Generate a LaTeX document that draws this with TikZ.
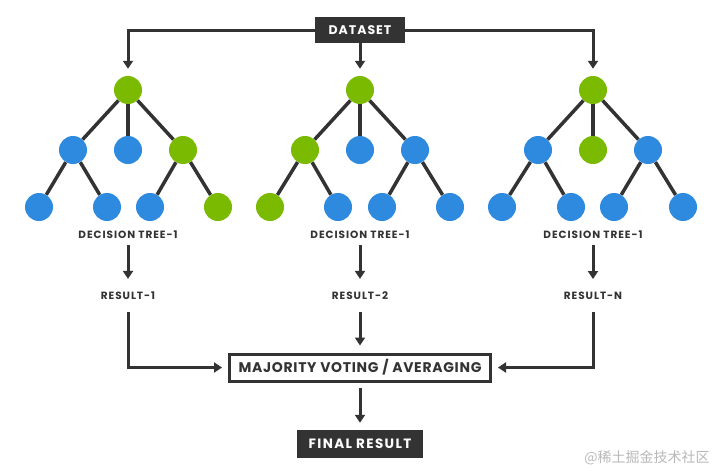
\documentclass[tikz,border=0pt]{standalone}
\usepackage{fontspec}
\setmainfont{Poppins}
\newfontfamily\cjkfont{Noto Sans CJK SC}
\usetikzlibrary{arrows.meta}
\definecolor{treegreen}{RGB}{122,186,0}
\definecolor{treeblue}{RGB}{46,138,222}
\definecolor{ink}{RGB}{51,51,51}
\definecolor{wmgray}{RGB}{185,185,185}
\begin{document}
\begin{tikzpicture}[x=1pt,y=-1pt,
  leaf/.style={circle,minimum size=28pt,inner sep=0pt},
  gnode/.style={leaf,fill=treegreen},
  bnode/.style={leaf,fill=treeblue},
  edge/.style={draw=ink,line width=3.5pt},
  arr/.style={draw=ink,line width=3pt,-{Triangle[width=10pt,length=8pt]}},
  lbl/.style={text=ink,font=\bfseries\fontsize{10.5}{12}\selectfont\addfontfeature{LetterSpace=9},inner sep=0pt},
  darkbox/.style={fill=ink,text=white,inner sep=0pt},
  votebox/.style={draw=ink,line width=3pt,fill=white,text=ink,inner sep=0pt,minimum width=261pt,minimum height=27pt,font=\bfseries\fontsize{14}{16}\selectfont\addfontfeature{LetterSpace=5}}
]
\fill[white] (0,0) rectangle (720,471);
\useasboundingbox (0,0) rectangle (720,471);

% dataset
\node[darkbox,minimum width=90pt,minimum height=26pt,font=\bfseries\fontsize{12.5}{14}\selectfont\addfontfeature{LetterSpace=8}] (ds) at (360,30) {DATASET};

% tree 1
\node[gnode] (t1r) at (128,90) {};
\node[bnode] (t1a) at (73,150) {};
\node[bnode] (t1b) at (128,150) {};
\node[gnode] (t1c) at (183,150) {};
\node[bnode] (t1d) at (39,207) {};
\node[bnode] (t1e) at (107,207) {};
\node[bnode] (t1f) at (150,207) {};
\node[gnode] (t1h) at (218,207) {};
% tree 2
\node[gnode] (t2r) at (360,90) {};
\node[gnode] (t2a) at (305,150) {};
\node[bnode] (t2b) at (360,150) {};
\node[bnode] (t2c) at (415,150) {};
\node[gnode] (t2d) at (270,207) {};
\node[bnode] (t2e) at (338,207) {};
\node[bnode] (t2f) at (382,207) {};
\node[bnode] (t2h) at (450,207) {};
% tree 3
\node[gnode] (t3r) at (593,90) {};
\node[bnode] (t3a) at (538,150) {};
\node[gnode] (t3b) at (593,150) {};
\node[bnode] (t3c) at (648,150) {};
\node[bnode] (t3d) at (502,207) {};
\node[bnode] (t3e) at (571,207) {};
\node[bnode] (t3f) at (614,207) {};
\node[bnode] (t3h) at (683,207) {};

\foreach \t in {1,2,3}{
  \draw[edge] (t\t r) -- (t\t a);
  \draw[edge] (t\t r) -- (t\t b);
  \draw[edge] (t\t r) -- (t\t c);
  \draw[edge] (t\t a) -- (t\t d);
  \draw[edge] (t\t a) -- (t\t e);
  \draw[edge] (t\t c) -- (t\t f);
  \draw[edge] (t\t c) -- (t\t h);
}

% dataset arrows
\draw[arr,shorten >=7pt] (ds.west) -| (t1r);
\draw[arr,shorten >=7pt] (ds.south) -- (t2r);
\draw[arr,shorten >=7pt] (ds.east) -| (t3r);

% labels
\node[lbl] (dt1) at (128,235) {DECISION TREE-1};
\node[lbl] (dt2) at (360,235) {DECISION TREE-1};
\node[lbl] (dt3) at (593,235) {DECISION TREE-1};
\node[lbl] (r1) at (128,296) {RESULT-1};
\node[lbl] (r2) at (360,296) {RESULT-2};
\node[lbl] (r3) at (593,296) {RESULT-N};

\foreach \i in {1,2,3}{
  \draw[arr,shorten <=6pt,shorten >=13pt] (dt\i) -- (r\i);
}

% voting
\node[votebox] (maj) at (360,367.5) {MAJORITY VOTING / AVERAGING};
\node[darkbox,minimum width=126pt,minimum height=28pt,font=\bfseries\fontsize{13.5}{15}\selectfont\addfontfeature{LetterSpace=10}] (fin) at (360,444) {FINAL RESULT};

\draw[arr,shorten <=12pt,shorten >=6pt] (r1) |- (maj.west);
\draw[arr,shorten <=12pt,shorten >=7pt] (r2) -- (maj);
\draw[arr,shorten <=12pt,shorten >=6pt] (r3) |- (maj.east);
\draw[arr,shorten <=5pt,shorten >=7pt] (maj) -- (fin);

% watermark
\node[text=wmgray,font=\cjkfont\fontsize{14}{16}\selectfont,inner sep=0pt] (wm) at (647,458) {@稀土掘金技术社区};
\end{tikzpicture}
\end{document}
